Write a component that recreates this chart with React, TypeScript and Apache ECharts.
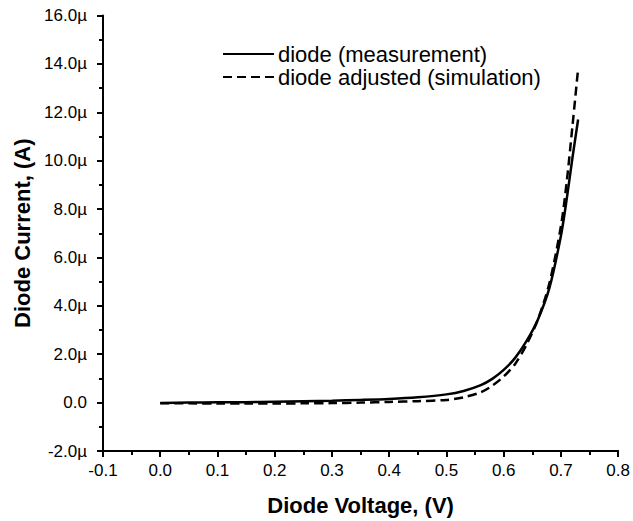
import React, { useEffect, useRef } from "react";
import * as echarts from "echarts";

const voltage = [0, 0.05, 0.1, 0.15, 0.2, 0.25, 0.3, 0.35, 0.4, 0.45, 0.5, 0.53, 0.56, 0.58, 0.6, 0.62, 0.64, 0.66, 0.68, 0.7, 0.71, 0.72, 0.73];
const measured = [-0.02, 0.0, 0.01, 0.02, 0.04, 0.06, 0.08, 0.11, 0.15, 0.22, 0.34, 0.48, 0.72, 0.98, 1.35, 1.85, 2.55, 3.45, 4.75, 6.9, 8.4, 10.1, 11.7];
const simulated = [-0.03, -0.03, -0.04, -0.04, -0.04, -0.03, -0.02, 0.0, 0.03, 0.06, 0.11, 0.22, 0.43, 0.7, 1.08, 1.6, 2.4, 3.45, 4.95, 7.3, 9.1, 11.4, 13.8];
const seriesNames = ["diode (measurement)", "diode adjusted (simulation)"];

const FONT = "Arial, 'Liberation Sans', sans-serif";

export default function App() {
  const ref = useRef<HTMLDivElement>(null);
  useEffect(() => {
    document.body.style.margin = "0";
    const chart = echarts.init(ref.current!, null, { renderer: "svg" });
    const axisCommon = {
      axisLine: { show: true, onZero: false, lineStyle: { color: "#000", width: 2 } },
      axisTick: { show: true, inside: false, length: 6, lineStyle: { color: "#000", width: 2 } },
      minorTick: { show: true, splitNumber: 2, length: 4, lineStyle: { color: "#000", width: 2 } },
      splitLine: { show: false },
      nameLocation: "middle" as const,
      nameTextStyle: { fontFamily: FONT, fontWeight: "bold" as const, fontSize: 22, color: "#000" },
    };
    chart.setOption({
      animation: false,
      backgroundColor: "#fff",
      grid: { left: 103, right: 14, top: 15.5, bottom: 69 },
      legend: {
        orient: "vertical",
        left: 217,
        top: 38,
        itemWidth: 51,
        itemHeight: 14,
        itemGap: 1,
        itemStyle: { opacity: 0 },
        textStyle: { fontFamily: FONT, fontSize: 22, color: "#000", padding: [0, 0, 0, -1] },
        data: seriesNames,
      },
      xAxis: {
        type: "value",
        min: -0.1,
        max: 0.8,
        interval: 0.1,
        name: "Diode Voltage, (V)",
        nameGap: 43,
        ...axisCommon,
        axisLabel: {
          fontFamily: FONT,
          fontSize: 17,
          color: "#000",
          margin: 11,
          formatter: (v: number) => v.toFixed(1),
        },
      },
      yAxis: {
        type: "value",
        min: -2,
        max: 16,
        interval: 2,
        name: "Diode Current, (A)",
        nameGap: 69,
        ...axisCommon,
        axisLabel: {
          fontFamily: FONT,
          fontSize: 17,
          color: "#000",
          margin: 16,
          formatter: (v: number) => (Math.abs(v) < 1e-9 ? "0.0" : v.toFixed(1) + "µ"),
        },
      },
      series: [
        {
          name: seriesNames[1],
          type: "line",
          data: voltage.map((v, i) => [v, simulated[i]]),
          symbol: "none",
          smooth: 0.3,
          lineStyle: { color: "#000", width: 2.5, type: [9, 5] },
          itemStyle: { color: "#000" },
        },
        {
          name: seriesNames[0],
          type: "line",
          data: voltage.map((v, i) => [v, measured[i]]),
          symbol: "none",
          smooth: 0.3,
          lineStyle: { color: "#000", width: 2.5, type: "solid" },
          itemStyle: { color: "#000" },
        },
      ],
    });
    return () => chart.dispose();
  }, []);
  return <div ref={ref} style={{ width: 633, height: 521 }} />;
}
